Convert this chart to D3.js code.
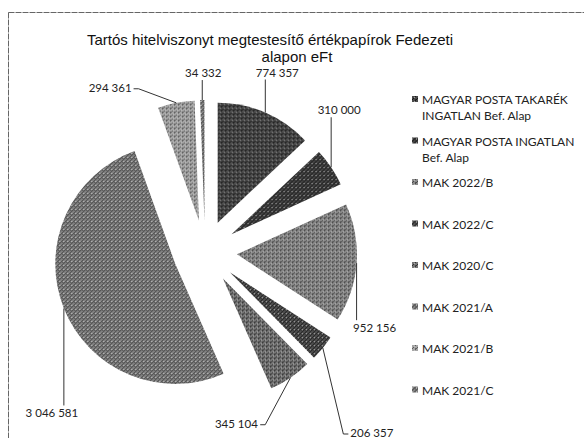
<!DOCTYPE html>
<html>
<head>
<meta charset="utf-8">
<script src="https://cdn.jsdelivr.net/npm/d3@7"></script>
<style>
  body { margin: 0; background: #fff; }
  svg { display: block; }
</style>
</head>
<body>
<svg id="chart"></svg>
<script>
// Series values (eFt), clockwise from 12 o'clock
var categories = [
  "MAGYAR POSTA TAKARÉK INGATLAN Bef. Alap",
  "MAGYAR POSTA INGATLAN Bef. Alap",
  "MAK 2022/B",
  "MAK 2022/C",
  "MAK 2020/C",
  "MAK 2021/A",
  "MAK 2021/B",
  "MAK 2021/C"
];
var values = [774357, 310000, 952156, 206357, 345104, 3046581, 294361, 34332];
var valueLabels = ["774 357", "310 000", "952 156", "206 357", "345 104", "3 046 581", "294 361", "34 332"];
// legend text split into lines as in the picture
var legendLines = [
  ["MAGYAR POSTA TAKARÉK", "INGATLAN Bef. Alap"],
  ["MAGYAR POSTA INGATLAN", "Bef. Alap"],
  ["MAK 2022/B"], ["MAK 2022/C"], ["MAK 2020/C"],
  ["MAK 2021/A"], ["MAK 2021/B"], ["MAK 2021/C"]
];
var titleLines = ["Tartós hitelviszonyt megtestesítő értékpapírok  Fedezeti", "alapon eFt"];

var width = 584, height = 438;
var cx = 205, cy = 252, radius = 120, explode = 32;

// where the data labels were dragged to (offset from the slice's outer edge)
var labelOffsets = [[12, -40], [8, -57], [18, 65], [49, 85], [-54, 46], [-12, 105], [-66, -15], [1, -27]];

// greys of the patterned fills (base, hatch)
var fills = [
  ["#4a4a4a", "#111"], ["#444", "#0e0e0e"], ["#8a8a8a", "#404040"], ["#505050", "#111"],
  ["#767676", "#2a2a2a"], ["#828282", "#383838"], ["#a6a6a6", "#555"], ["#858585", "#333"]
];

var svg = d3.select("#chart").attr("width", width).attr("height", height);

// patterns to mimic the printed fills
var defs = svg.append("defs");
fills.forEach(function(f, i) {
  var p = defs.append("pattern")
    .attr("id", "pat" + i)
    .attr("patternUnits", "userSpaceOnUse")
    .attr("width", 4).attr("height", 4);
  p.append("rect").attr("width", 4).attr("height", 4).attr("fill", f[0]);
  p.append("path").attr("d", "M0,4 L4,0 M-1,1 L1,-1 M3,5 L5,3")
    .attr("stroke", f[1]).attr("stroke-width", 0.9);
  p.append("rect").attr("x", i % 2 ? 0 : 2).attr("y", 1).attr("width", 1).attr("height", 1).attr("fill", "#fff").attr("opacity", 0.6);
  p.append("rect").attr("x", 3).attr("y", i % 2 ? 2 : 3).attr("width", 1).attr("height", 1).attr("fill", "#000").attr("opacity", 0.4);
});

// chart frame
svg.append("rect")
  .attr("x", 8.5).attr("y", 12.5)
  .attr("width", 600).attr("height", 460)
  .attr("fill", "none")
  .attr("stroke", "#666")
  .attr("stroke-width", 1)
  .attr("stroke-dasharray", "6,1");

// title
var titleFont = "Liberation Sans, Arial, sans-serif";
svg.append("text")
  .attr("x", 270).attr("y", 45)
  .attr("text-anchor", "middle")
  .attr("font-family", titleFont)
  .attr("font-size", "15px")
  .attr("fill", "#111")
  .text(titleLines[0]);
svg.append("text")
  .attr("x", 297).attr("y", 62)
  .attr("text-anchor", "middle")
  .attr("font-family", titleFont)
  .attr("font-size", "15px")
  .attr("fill", "#111")
  .text(titleLines[1]);

var pie = d3.pie().sort(null).value(function(d) { return d; });
var arc = d3.arc().innerRadius(0).outerRadius(radius);
var arcs = pie(values);

var g = svg.append("g").attr("transform", "translate(" + cx + "," + cy + ")");

function mid(d) { return (d.startAngle + d.endAngle) / 2; }
function shift(d) {
  var a = mid(d);
  return [Math.sin(a) * explode, -Math.cos(a) * explode];
}

g.selectAll("path.slice")
  .data(arcs)
  .enter().append("path")
  .attr("class", "slice")
  .attr("transform", function(d) { var s = shift(d); return "translate(" + s[0] + "," + s[1] + ")"; })
  .attr("d", arc)
  .attr("fill", function(d, i) { return "url(#pat" + i + ")"; });

// data labels with leader lines
var labelFont = "Lato, 'Open Sans', sans-serif";
arcs.forEach(function(d, i) {
  var s = shift(d), a = mid(d);
  var ax = s[0] + Math.sin(a) * radius, ay = s[1] - Math.cos(a) * radius;
  var lx = ax + labelOffsets[i][0], ly = ay + labelOffsets[i][1];
  var t = g.append("text")
    .attr("x", lx).attr("y", ly)
    .attr("dy", "0.35em")
    .attr("text-anchor", "middle")
    .attr("font-family", labelFont)
    .attr("font-size", "11.5px")
    .attr("fill", "#222")
    .text(valueLabels[i]);
  var bb = t.node().getBBox();
  var pts;
  if (ax >= bb.x && ax <= bb.x + bb.width) {
    var ey = ay < bb.y ? bb.y - 1 : bb.y + bb.height + 1;
    pts = [[ax, ay], [ax, ey]];
  } else {
    var ex = ax < bb.x ? bb.x - 2 : bb.x + bb.width + 2;
    var kx = ax < bb.x ? ex - 5 : ex + 5;
    pts = [[ax, ay], [kx, ly + 1], [ex, ly + 1]];
  }
  g.append("path")
    .attr("d", d3.line()(pts))
    .attr("fill", "none")
    .attr("stroke", "#333")
    .attr("stroke-width", 1);
});

// legend
var legend = svg.append("g").attr("transform", "translate(412,100)");
var item = legend.selectAll("g")
  .data(legendLines)
  .enter().append("g")
  .attr("transform", function(d, i) { return "translate(0," + (i * 41.5) + ")"; });
item.append("rect")
  .attr("x", 0).attr("y", -4)
  .attr("width", 6).attr("height", 6)
  .attr("fill", function(d, i) { return "url(#pat" + i + ")"; });
item.each(function(lines) {
  var t = d3.select(this).append("text")
    .attr("font-family", labelFont)
    .attr("font-size", "12px")
    .attr("fill", "#222");
  lines.forEach(function(l, j) {
    t.append("tspan").attr("x", 10).attr("y", j * 16).attr("dy", "0.35em").text(l);
  });
});
</script>
</body>
</html>
